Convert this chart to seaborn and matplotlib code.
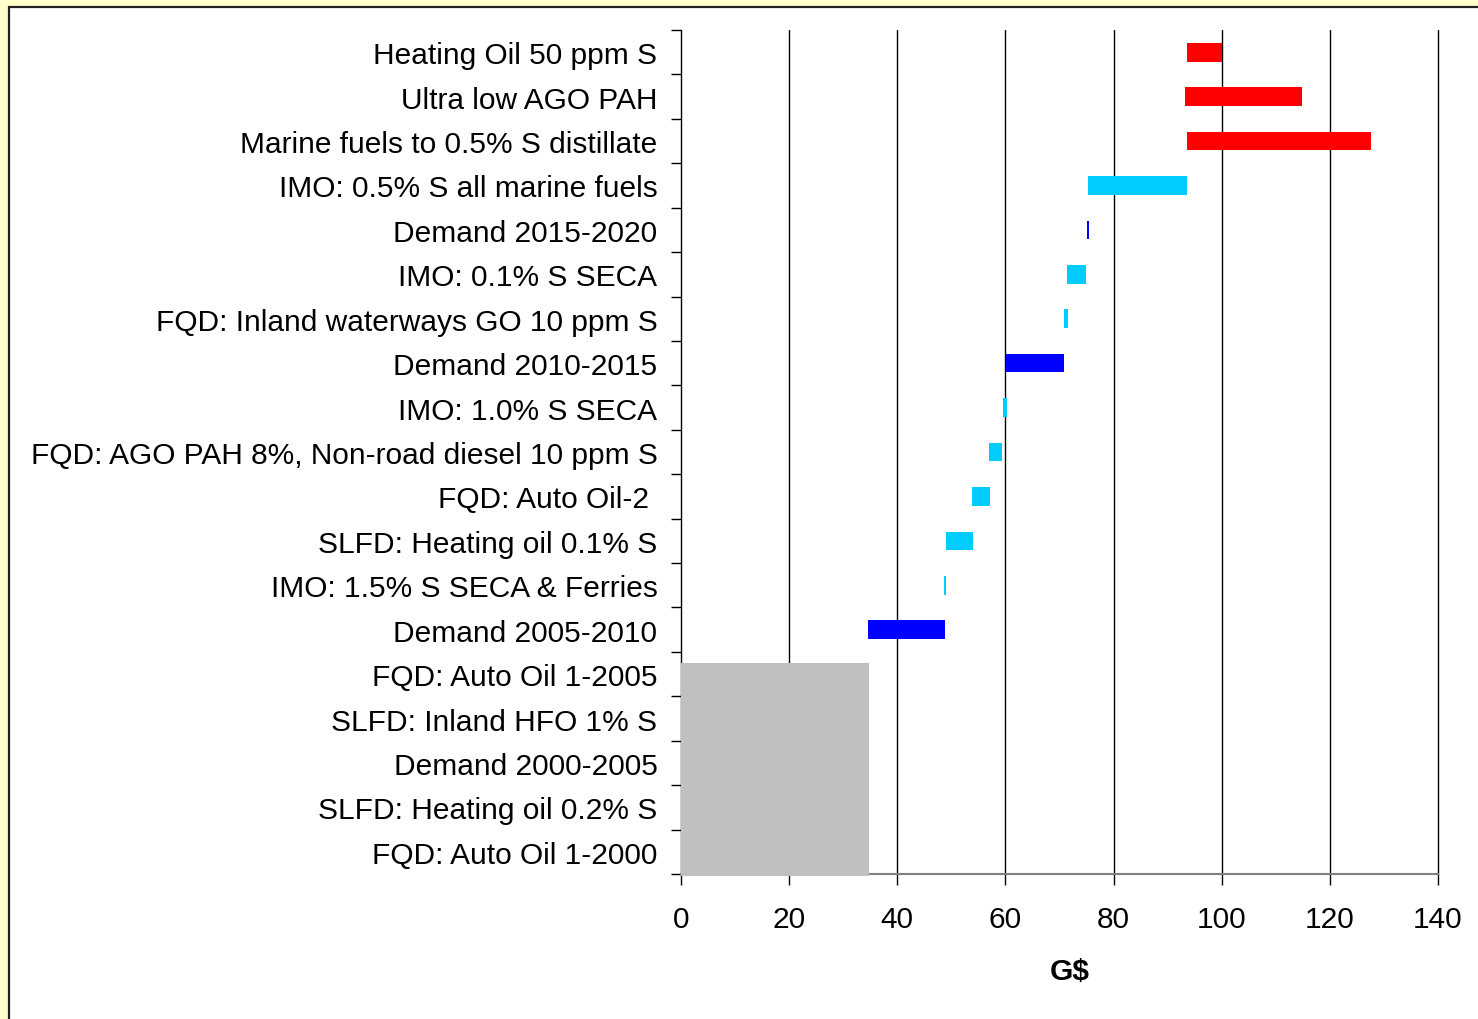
import matplotlib
matplotlib.use("Agg")
import matplotlib.pyplot as plt
import seaborn as sns
import numpy as np
from matplotlib.patches import Rectangle

sns.set_style("white")
plt.rcParams['font.family'] = ['Liberation Sans', 'DejaVu Sans']
plt.rcParams['text.color'] = 'black'
plt.rcParams['axes.labelcolor'] = 'black'
plt.rcParams['xtick.color'] = 'black'
plt.rcParams['ytick.color'] = 'black'

categories = ["Heating Oil 50 ppm S", "Ultra low AGO PAH", "Marine fuels to 0.5% S distillate",
              "IMO: 0.5% S all marine fuels", "Demand 2015-2020", "IMO: 0.1% S SECA",
              "FQD: Inland waterways GO 10 ppm S", "Demand 2010-2015", "IMO: 1.0% S SECA",
              "FQD: AGO PAH 8%, Non-road diesel 10 ppm S", "FQD: Auto Oil-2 ",
              "SLFD: Heating oil 0.1% S", "IMO: 1.5% S SECA & Ferries", "Demand 2005-2010",
              "FQD: Auto Oil 1-2005", "SLFD: Inland HFO 1% S", "Demand 2000-2005",
              "SLFD: Heating oil 0.2% S", "FQD: Auto Oil 1-2000"]
starts = [93.5, 93.3, 93.5, 75.3, 75.0, 71.4, 70.9, 60.1, 59.6, 57.0, 53.8, 49.0, 48.6, 34.5]
ends = [100.0, 114.8, 127.6, 93.5, 75.4, 74.9, 71.6, 70.9, 60.3, 59.4, 57.2, 54.0, 49.0, 48.8]
kinds = ["red", "red", "red", "cyan", "blue", "cyan", "cyan", "blue", "cyan", "cyan",
         "cyan", "cyan", "cyan", "blue"]
base_value = 34.7  # grey block covering the bottom five categories
xticks = [0, 20, 40, 60, 80, 100, 120, 140]

palette = {"red": "#FF0000", "cyan": "#00CCFF", "blue": "#0000FF"}

fig = plt.figure(figsize=(14.78, 10.2), dpi=100)
fig.patch.set_facecolor("#FFFFCC")
panel = Rectangle((8.5 / 1478, -0.01), 1.0, 1.01 - 7.5 / 1020, transform=fig.transFigure,
                  facecolor="white", edgecolor="#202020", linewidth=1.6, zorder=-10)
fig.add_artist(panel)

ax = fig.add_axes([681 / 1478, 1 - 875 / 1020, (1438 - 681) / 1478, (875 - 31) / 1020])
ax.set_zorder(5)
ax.set_facecolor("white")

n = len(categories)
ypos = np.arange(n)

# grey base block
grey_idx = np.arange(len(starts), n)
g_top = grey_idx[0] - 0.25
g_bot = grey_idx[-1] + 0.55
ax.barh((g_top + g_bot) / 2, base_value, height=g_bot - g_top, left=0,
        color="#C0C0C0", zorder=3, linewidth=0, clip_on=False)

for i, (s, e, k) in enumerate(zip(starts, ends, kinds)):
    ax.barh(ypos[i], e - s, left=s, height=0.42, color=palette[k], zorder=3, linewidth=0)

ax.set_xlim(0, 140)
ax.set_ylim(n - 0.5, -0.5)

for xv in xticks[1:]:
    ax.axvline(xv, color="#000000", lw=1.0, zorder=1, clip_on=False)

ax.set_xticks(xticks)
ax.set_xticklabels([str(v) for v in xticks], fontsize=21.5)
ax.set_yticks(ypos)
ax.set_yticklabels(categories, fontsize=21.5)
ax.set_yticks(np.arange(n + 1) - 0.5, minor=True)
ax.tick_params(axis="y", which="major", length=0, pad=17)
ax.tick_params(axis="y", which="minor", length=7, width=1, color="#000000", direction="out", left=True)
ax.tick_params(axis="x", which="major", length=8, width=1, color="#000000", direction="out", pad=14, bottom=True)

for sp in ["top", "right"]:
    ax.spines[sp].set_visible(False)
ax.spines["left"].set_color("#000000")
ax.spines["left"].set_linewidth(1.0)
ax.spines["bottom"].set_color("#808080")
ax.spines["bottom"].set_linewidth(1.5)

ax.set_xlabel("G$", fontsize=21.5, fontweight="bold", color="black")
ax.xaxis.set_label_coords(0.513, -0.098)

fig.savefig("out.png", dpi=100, facecolor=fig.get_facecolor())
